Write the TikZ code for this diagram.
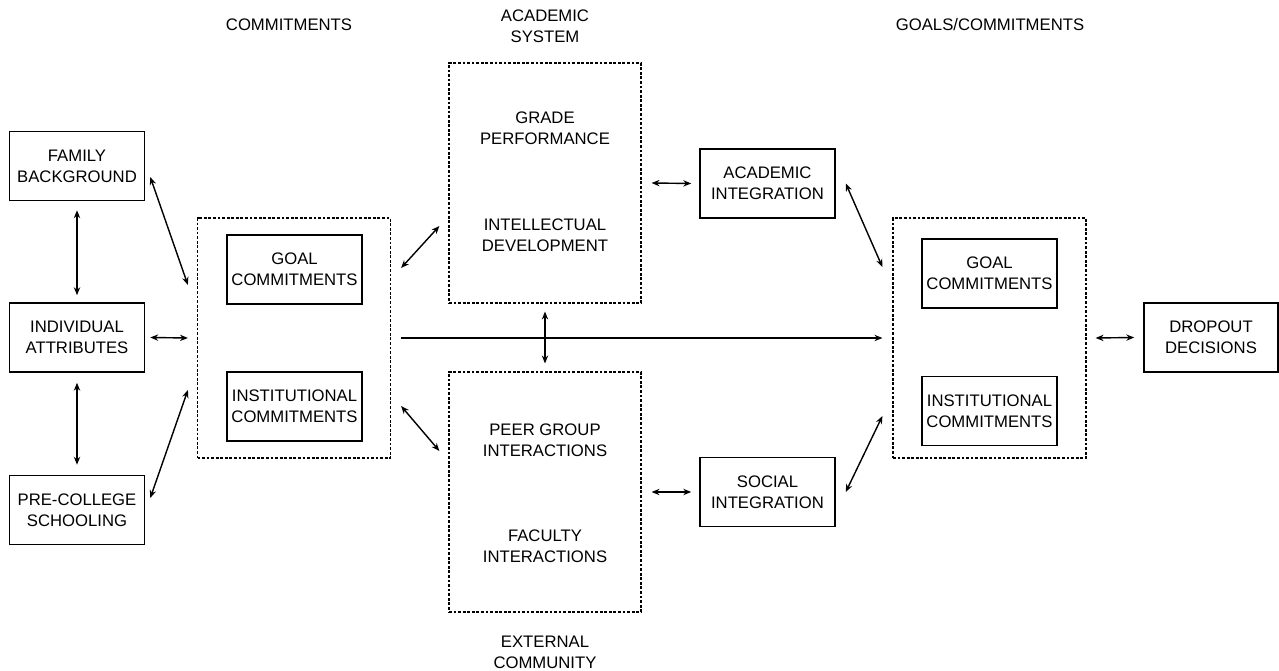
\documentclass[tikz,border=0pt]{standalone}
\usepackage{fontspec}
\setmainfont{Liberation Sans}
\usetikzlibrary{arrows.meta}

\tikzset{
  txt/.style={align=center, inner sep=1pt, font=\fontsize{9.5}{12}\selectfont},
  box/.style={txt, draw, line width=0.9pt, minimum width=2.7cm, minimum height=1.38cm},
  group/.style={draw, line width=0.7pt, dash pattern=on 1.6pt off 1pt, minimum width=3.86cm, minimum height=4.8cm},
  link/.style={<->, line width=0.8pt},
  >={Stealth[length=4.5pt,width=3.6pt]}
}

\begin{document}
\begin{tikzpicture}[x=0.02cm, y=-0.02cm]
\useasboundingbox (0,0) rectangle (1279,671);
% titles
\node[txt] (tcommit) at (289,25) {COMMITMENTS};
\node[txt] (tacad) at (545,26) {ACADEMIC\\SYSTEM};
\node[txt] (tgoals) at (990,25) {GOALS/COMMITMENTS};
\node[txt] (text) at (545,652) {EXTERNAL\\COMMUNITY};
% left column
\node[box] (fam) at (77,166) {FAMILY\\BACKGROUND};
\node[box] (ind) at (77,337.5) {INDIVIDUAL\\ATTRIBUTES};
\node[box] (pre) at (77,510) {PRE-COLLEGE\\SCHOOLING};
% commitments
\node[group] (lgroup) at (294,338) {};
\node[box] (lgoal) at (294.5,269.5) {GOAL\\COMMITMENTS};
\node[box] (linst) at (294.5,406.5) {INSTITUTIONAL\\COMMITMENTS};
% academic system / external community
\node[group, minimum width=3.84cm] (acad) at (545,183) {};
\node[txt] (grade) at (545,128) {GRADE\\PERFORMANCE};
\node[txt] (intel) at (545,235) {INTELLECTUAL\\DEVELOPMENT};
\node[group, minimum width=3.84cm] (ext) at (545,492) {};
\node[txt] (peer) at (545,440) {PEER GROUP\\INTERACTIONS};
\node[txt] (fac) at (545,546) {FACULTY\\INTERACTIONS};
% integration
\node[box] (acadint) at (767.5,183.5) {ACADEMIC\\INTEGRATION};
\node[box] (socint) at (767.5,492) {SOCIAL\\INTEGRATION};
% goals/commitments
\node[group] (rgroup) at (989.5,338) {};
\node[box] (rgoal) at (989.5,273.5) {GOAL\\COMMITMENTS};
\node[box] (rinst) at (989.5,411) {INSTITUTIONAL\\COMMITMENTS};
\node[box, minimum width=2.68cm] (drop) at (1211,337.5) {DROPOUT\\DECISIONS};
% connectors
\draw[link] ([shift={(0,9)}]fam.south) -- ([shift={(0,-7)}]ind.north);
\draw[link] ([shift={(0,10)}]ind.south) -- ([shift={(0,-10)}]pre.north);
\draw[link] ([shift={(5,0)}]ind.east) -- ([shift={(-9,0)}]lgroup.west);
\draw[link] ([shift={(5,11)}]fam.east) -- ([shift={(-9,-53)}]lgroup.west);
\draw[link] ([shift={(5,-12)}]pre.east) -- ([shift={(-9,52)}]lgroup.west);
\draw[link] ([shift={(10,-70)}]lgroup.east) -- ([shift={(-9,43)}]acad.west);
\draw[link] ([shift={(10,68)}]lgroup.east) -- ([shift={(-9,-41)}]ext.west);
\draw[->, line width=0.8pt] ([shift={(10,0)}]lgroup.east) -- ([shift={(-10,0)}]rgroup.west);
\draw[link] ([shift={(0,8)}]acad.south) -- ([shift={(0,-8)}]ext.north);
\draw[link] ([shift={(10,0)}]acad.east) -- ([shift={(-8,0)}]acadint.west);
\draw[link] ([shift={(10,0)}]ext.east) -- ([shift={(-8,0)}]socint.west);
\draw[link] ([shift={(10,0)}]acadint.east) -- ([shift={(-10,-71)}]rgroup.west);
\draw[link] ([shift={(10,0)}]socint.east) -- ([shift={(-10,78)}]rgroup.west);
\draw[link] ([shift={(9,0)}]rgroup.east) -- ([shift={(-9,0)}]drop.west);
\end{tikzpicture}
\end{document}
